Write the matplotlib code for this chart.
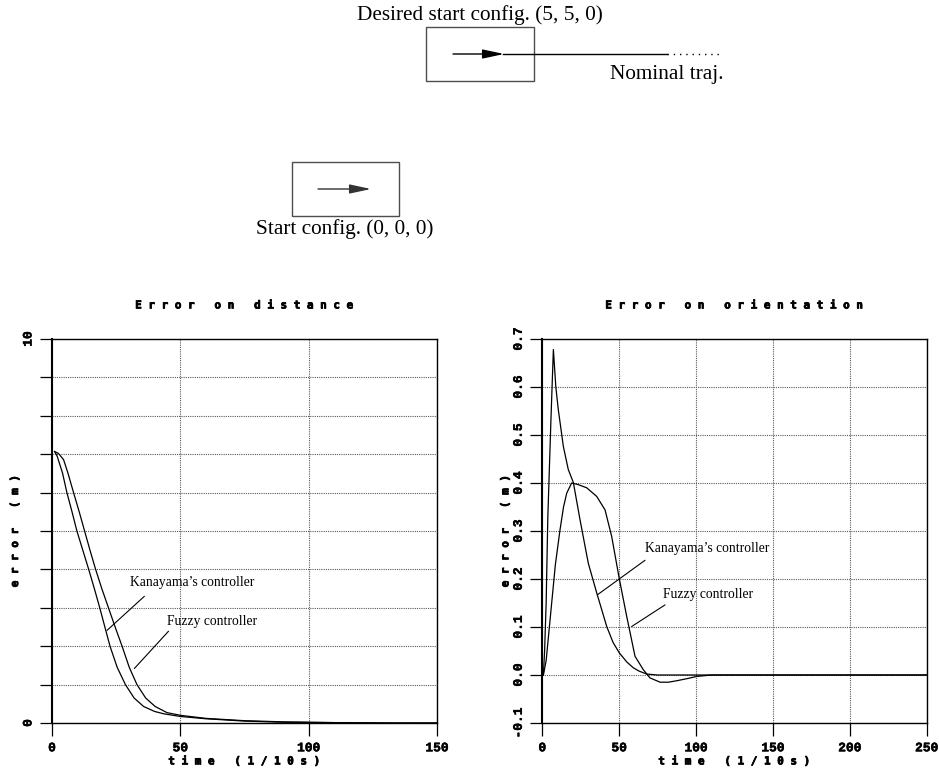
import numpy as np
import matplotlib.pyplot as plt
import matplotlib.patheffects as pe
from matplotlib.patches import Rectangle, FancyArrowPatch

# Error on distance (m) vs time (1/10 s)
dist_t_kanayama = [1.0, 2.0, 4.1, 5.8, 7.8, 9.7, 12.0, 14.3, 16.5, 18.6, 20.6, 22.6,
                   25.4, 28.6, 32, 35.7, 40, 43.5, 50, 60, 75, 90, 110, 130, 150]
dist_kanayama = [7.07, 6.95, 6.51, 6.0, 5.5, 5.0, 4.5, 4.0, 3.5, 3.0, 2.5, 2.0,
                 1.45, 1.0, 0.65, 0.43, 0.3, 0.24, 0.17, 0.11, 0.05, 0.02, 0.01, 0.0, 0.0]
dist_t_fuzzy = [1.0, 2.5, 4.5, 6.2, 8.4, 10.6, 12.7, 14.8, 17.0, 19.4, 22.0, 24.6,
                27.3, 30.1, 33.1, 36.5, 40.2, 44.8, 50, 60, 75, 90, 110, 130, 150]
dist_fuzzy = [7.07, 7.02, 6.86, 6.51, 6.0, 5.5, 5.0, 4.5, 4.0, 3.5, 3.0, 2.5,
              2.0, 1.45, 1.0, 0.65, 0.43, 0.27, 0.2, 0.12, 0.06, 0.03, 0.01, 0.0, 0.0]
dist_xticks = [0, 50, 100, 150]
dist_yticks = [0, 1, 2, 3, 4, 5, 6, 7, 8, 9, 10]
dist_ylabels = ['0', '', '', '', '', '', '', '', '', '', '10']

# Error on orientation vs time (1/10 s)
orient_t_kanayama = [0.7, 1.5, 2.5, 3.6, 4.6, 5.6, 7.2, 8.8, 10.4, 13.7, 16.9, 20.2,
                     24.5, 29.9, 35.4, 41.9, 46, 50.1, 55, 59.2, 63, 67.9, 75, 90,
                     150, 200, 250]
orient_kanayama = [0.0, 0.05, 0.15, 0.33, 0.43, 0.53, 0.678, 0.6, 0.553, 0.476, 0.428, 0.401,
                   0.324, 0.233, 0.171, 0.101, 0.068, 0.046, 0.027, 0.015, 0.008, 0.002, 0.0, 0.0,
                   0.0, 0.0, 0.0]
orient_t_fuzzy = [0.7, 2.5, 4.0, 6.1, 8.5, 11.5, 13.8, 15.9, 19.1, 23.0, 28.9, 35.4,
                  40.8, 45.1, 50.1, 54.9, 60.3, 65.7, 70.0, 76.6, 82.0, 87.4, 95.0, 100.4,
                  110, 150, 200, 250]
orient_fuzzy = [0.0, 0.03, 0.08, 0.15, 0.23, 0.302, 0.35, 0.379, 0.4, 0.397, 0.39, 0.372,
                0.344, 0.289, 0.2, 0.122, 0.039, 0.011, -0.006, -0.015, -0.015, -0.012, -0.007, -0.003,
                0.0, 0.0, 0.0, 0.0]
orient_xticks = [0, 50, 100, 150, 200, 250]
orient_yticks = [-0.1, 0.0, 0.1, 0.2, 0.3, 0.4, 0.5, 0.6, 0.7]
orient_ylabels = ['-0.1', '0.0', '0.1', '0.2', '0.3', '0.4', '0.5', '0.6', '0.7']

W, H = 939, 771
MONO = 'Liberation Mono'
LABEL_MONO = 'DejaVu Sans Mono'
SERIF = 'Liberation Serif'
heavy = [pe.withStroke(linewidth=0.55, foreground='black')]
semi = [pe.withStroke(linewidth=0.35, foreground='black')]


def spaced(s):
    # the original labels are printed with wide letter spacing
    return ' '.join(s)


fig = plt.figure(figsize=(W / 100, H / 100), dpi=100)

# ---- configuration sketch at the top (pixel coordinates) ----
sk = fig.add_axes([0, 0, 1, 1])
sk.set_xlim(0, W)
sk.set_ylim(H, 0)
sk.axis('off')
sk.add_patch(Rectangle((426, 27), 108, 54, fill=False, ec='0.3', lw=1.0))
sk.add_patch(Rectangle((292, 162), 107, 54, fill=False, ec='0.3', lw=1.0))
sk.plot([503, 667], [54, 54], color='black', lw=1.0)
sk.plot([667, 723], [54, 54], color='black', lw=1.0, ls=(0, (1, 3.5)))
for x0, x1, y, c in [(453, 504, 54, 'black'), (318, 371, 189, '0.2')]:
    sk.add_patch(FancyArrowPatch((x0, y), (x1, y), arrowstyle='-|>,head_length=1.3,head_width=0.28',
                                 mutation_scale=10, color=c, lw=1.0, shrinkA=0, shrinkB=0))
sk.text(480, 15, 'Desired start config. (5, 5, 0)', family=SERIF, fontsize=15.3,
        ha='center', va='center')
sk.text(667, 74, 'Nominal traj.', family=SERIF, fontsize=15.3, ha='center', va='center')
sk.text(345, 229, 'Start config. (0, 0, 0)', family=SERIF, fontsize=15.3, ha='center', va='center')


def style_axes(ax, title, xticks, yticks, ylabels):
    ax.set_xticks(xticks)
    ax.set_xticklabels([str(v) for v in xticks], family=MONO, fontweight='bold', fontsize=9.3,
                       path_effects=semi)
    ax.set_yticks(yticks)
    ax.set_yticklabels(ylabels, family=MONO, fontweight='bold', fontsize=9.3,
                       rotation=90, va='center', path_effects=semi)
    ax.tick_params(axis='x', direction='out', length=9.4, width=0.9, pad=4.5)
    ax.tick_params(axis='y', direction='out', length=8.6, width=0.9, pad=4)
    ax.grid(True, color='0.35', ls=(0, (1, 1)), lw=0.8)
    ax.set_axisbelow(True)
    for s in ['top', 'right', 'bottom']:
        ax.spines[s].set_linewidth(1.0)
    ax.spines['left'].set_linewidth(1.5)
    ax.set_title(spaced(title), family=LABEL_MONO, fontweight='bold', fontsize=7.9, pad=22,
                 path_effects=heavy)
    ax.set_xlabel(spaced('time (1/10s)'), family=LABEL_MONO, fontweight='bold', fontsize=7.9,
                  va='center', path_effects=heavy)
    ax.xaxis.set_label_coords(0.5, -0.1)
    ax.set_ylabel(spaced('error (m)'), family=LABEL_MONO, fontweight='bold', fontsize=7.9,
                  va='center', path_effects=heavy)
    ax.yaxis.set_label_coords(-0.096, 0.5)


# ---- Error on distance ----
ax1 = fig.add_axes([52 / W, (H - 723) / H, 385 / W, 384 / H])
ax1.plot(dist_t_kanayama, dist_kanayama, color='black', lw=0.9)
ax1.plot(dist_t_fuzzy, dist_fuzzy, color='black', lw=0.9)
ax1.set_xlim(0, 150)
ax1.set_ylim(0, 10)
style_axes(ax1, 'Error on distance', dist_xticks, dist_yticks, dist_ylabels)
ax1.text(30.2, 3.67, 'Kanayama’s controller', family=SERIF, fontsize=9.8, va='center')
ax1.annotate('', xy=(21.4, 2.41), xytext=(36, 3.3),
             arrowprops=dict(arrowstyle='-', lw=0.8, color='black', shrinkA=0, shrinkB=0))
ax1.text(44.8, 2.65, 'Fuzzy controller', family=SERIF, fontsize=9.8, va='center')
ax1.annotate('', xy=(32.1, 1.42), xytext=(45.4, 2.39),
             arrowprops=dict(arrowstyle='-', lw=0.8, color='black', shrinkA=0, shrinkB=0))

# ---- Error on orientation ----
ax2 = fig.add_axes([542.3 / W, (H - 723) / H, 384.4 / W, 384 / H])
ax2.plot(orient_t_kanayama, orient_kanayama, color='black', lw=0.9)
ax2.plot(orient_t_fuzzy, orient_fuzzy, color='black', lw=0.9)
ax2.set_xlim(0, 250)
ax2.set_ylim(-0.1, 0.7)
style_axes(ax2, 'Error on orientation', orient_xticks, orient_yticks, orient_ylabels)
ax2.text(66.8, 0.264, 'Kanayama’s controller', family=SERIF, fontsize=9.8, va='center')
ax2.annotate('', xy=(35.8, 0.167), xytext=(66.8, 0.239),
             arrowprops=dict(arrowstyle='-', lw=0.8, color='black', shrinkA=0, shrinkB=0))
ax2.text(78.7, 0.167, 'Fuzzy controller', family=SERIF, fontsize=9.8, va='center')
ax2.annotate('', xy=(58.1, 0.101), xytext=(79.8, 0.146),
             arrowprops=dict(arrowstyle='-', lw=0.8, color='black', shrinkA=0, shrinkB=0))

fig.savefig('out.png', dpi=100)
